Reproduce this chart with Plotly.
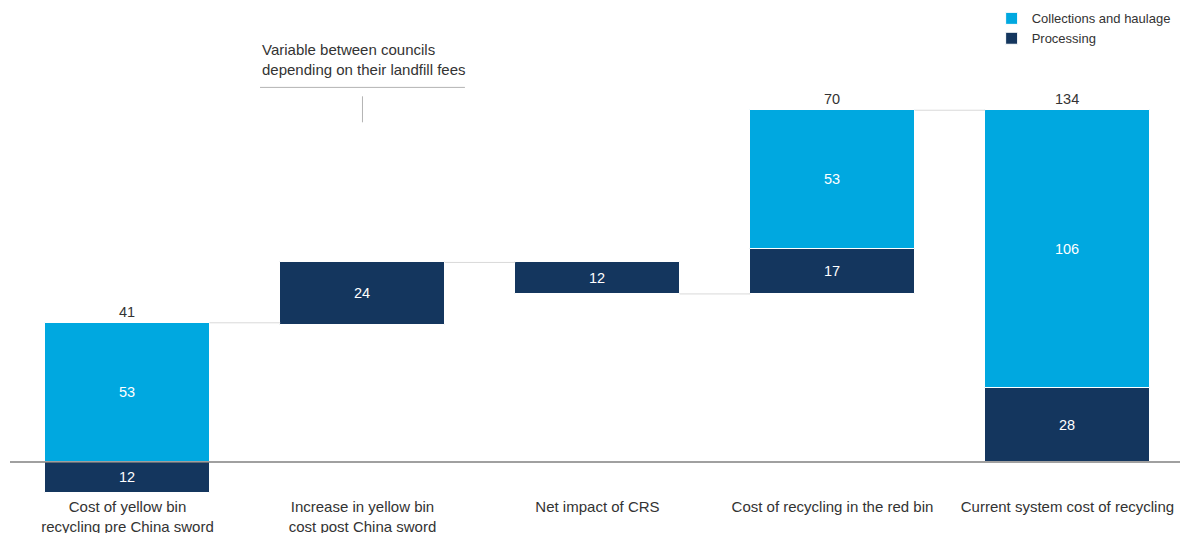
import plotly.graph_objects as go

categories = [
    "Cost of yellow bin<br>recycling pre China sword",
    "Increase in yellow bin<br>cost post China sword",
    "Net impact of CRS",
    "Cost of recycling in the red bin",
    "Current system cost of recycling",
]
# Signed change contributed by processing, and collections/haulage
processing = [-12, 24, -12, 17, 28]
collections = [53, 0, 0, 53, 106]
# Bars drawn from zero (totals); the others float on the running level
is_total = [True, False, False, False, True]

LIGHT = "#00A8E0"
NAVY = "#14365E"
FONT = "Arial, Liberation Sans, sans-serif"

# Floating bases: walk back from the final total so the red-bin bar tops out at it
n = len(categories)
final_top = processing[-1] + collections[-1]
proc_base = [0.0] * n
coll_base = [0.0] * n
ends = [0.0] * n
level = final_top
for i in range(n - 2, 0, -1):
    total = processing[i] + collections[i]
    start = level - total
    proc_base[i] = start
    coll_base[i] = start + processing[i]
    ends[i] = level
    level = start
for i in range(n):
    if is_total[i]:
        proc_base[i] = 0
        coll_base[i] = 0 if processing[i] < 0 else processing[i]
        ends[i] = coll_base[i] + collections[i]

x = list(range(n))
BW = 0.7

fig = go.Figure()
fig.add_trace(go.Bar(
    x=x, y=[c if c else None for c in collections], base=coll_base, width=BW,
    name="Collections and haulage", marker=dict(color=LIGHT, line=dict(color="white", width=1)),
    text=[str(c) if c else "" for c in collections], textposition="inside",
    insidetextanchor="middle", textfont=dict(color="white", size=14.5, family=FONT),
    textangle=0,
))
fig.add_trace(go.Bar(
    x=x, y=processing, base=proc_base, width=BW,
    name="Processing", marker=dict(color=NAVY, line=dict(color="white", width=1)),
    text=[str(abs(p)) for p in processing], textposition="inside",
    insidetextanchor="middle", textfont=dict(color="white", size=14.5, family=FONT),
    textangle=0,
))

# Totals above the stacked bars
for i in range(n):
    if collections[i]:
        fig.add_annotation(x=i, y=ends[i], text=str(processing[i] + collections[i]),
                           showarrow=False, yanchor="bottom", yshift=1,
                           font=dict(size=14.5, color="#333333", family=FONT))

# Connector lines between consecutive bars
for i in range(n - 1):
    fig.add_shape(type="line", x0=i + BW / 2, x1=i + 1 - BW / 2, y0=ends[i], y1=ends[i],
                  line=dict(color="#d9d9d9", width=1))

# Zero line across the full width
fig.add_shape(type="line", xref="paper", x0=0, x1=1, y0=0, y1=0,
              line=dict(color="#808080", width=1.5))

# Note over the post-China-sword increase
fig.add_annotation(x=1 - 0.436, y=142.7, xanchor="left", yanchor="bottom", yshift=7,
                   text="Variable between councils<br>depending on their landfill fees",
                   showarrow=False, align="left",
                   font=dict(size=15, color="#333333", family=FONT))
fig.add_shape(type="line", x0=1 - 0.436, x1=1 + 0.436, y0=142.7, y1=142.7,
              line=dict(color="#b3b3b3", width=1))
fig.add_shape(type="line", x0=1, x1=1, y0=139.3, y1=129.4,
              line=dict(color="#b3b3b3", width=1))

fig.update_layout(
    width=1180, height=533,
    margin=dict(l=10, r=0, t=42, b=37, autoexpand=False),
    paper_bgcolor="white", plot_bgcolor="white",
    barmode="overlay", bargap=0,
    showlegend=True,
    legend=dict(x=0.839, y=1.085, xanchor="left", yanchor="top", traceorder="normal",
                font=dict(size=13, color="#333333", family=FONT),
                bgcolor="rgba(0,0,0,0)", itemwidth=30, tracegroupgap=0),
    font=dict(family=FONT),
)
fig.update_xaxes(range=[-0.5, 4.479], tickmode="array", tickvals=x, ticktext=categories,
                 showgrid=False, zeroline=False, showline=False, ticks="",
                 ticklabelstandoff=0,
                 tickfont=dict(size=15, color="#333333", family=FONT))
fig.update_yaxes(range=[-13, 160], visible=False, showgrid=False, zeroline=False)

fig.write_html("out.html")
